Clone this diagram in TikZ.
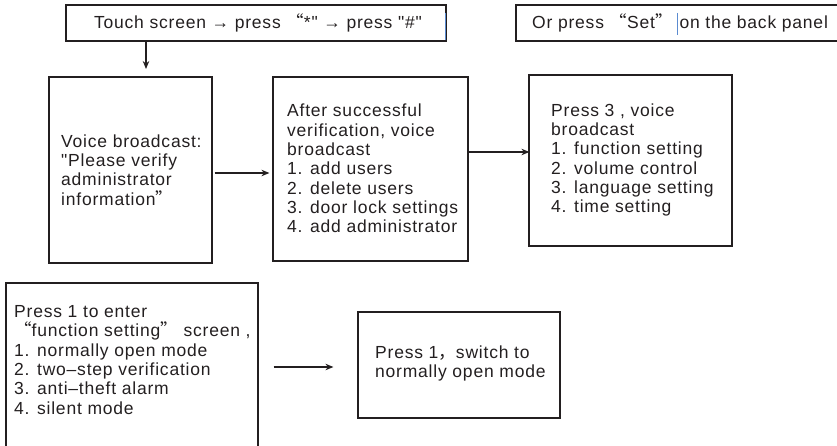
\documentclass[tikz,border=0pt]{standalone}
\usepackage{fontspec}
\setmainfont{Liberation Sans}[LetterSpace=4.5,Ligatures=TeXOff]
\newfontfamily\cjk{Noto Sans CJK SC}
\usetikzlibrary{arrows.meta}
\definecolor{ink}{HTML}{231F20}
\definecolor{cursor}{HTML}{5B8BD0}
\newcommand{\sq}{{\char"0022}}
\begin{document}
\begin{tikzpicture}[x=1pt,y=-1pt,
  box/.style={draw=ink,line width=1.2pt,minimum width=#1,inner sep=0pt},
  txt/.style={anchor=west,align=left,inner sep=0pt,text=ink,font=\fontsize{17.5}{19.3}\selectfont},
  arr/.style={draw=ink,line width=1.2pt,-{Stealth[length=8pt,width=6.5pt]}}]
\useasboundingbox (0,0) rectangle (837,446);
\begin{scope}
\clip (0,0) rectangle (837,446);
% top boxes
\node[box=380pt,minimum height=36pt] (top) at (256,23) {};
\node[txt,anchor=center] (toptxt) at (258,23) {Touch screen → press {\cjk “}*\sq{} → press \sq\#\sq};
\draw[cursor,line width=0.8pt] (445,13) -- (445,40);
\node[box=340pt,minimum height=36pt] (setbox) at (686,23) {};
\node[txt] (settxt) at (532,23) {Or press {\cjk “}Set{\cjk ”}\hspace{7pt}on the back panel};
\draw[cursor,line width=0.8pt] (677,13) -- (677,35);
% row 2
\node[box=163pt,minimum height=186pt] (vb) at (130.5,170) {};
\node[txt] (vbtxt) at (61,170) {Voice broadcast:\\\sq Please verify\\administrator\\information{\cjk ”}};
\node[box=195pt,minimum height=184pt] (ver) at (370.5,169) {};
\node[txt] (vertxt) at (287,168.5) {After successful\\verification, voice\\broadcast\\1. add users\\2. delete users\\3. door lock settings\\4. add administrator};
\node[box=203pt,minimum height=171pt] (p3) at (630.5,160.5) {};
\node[txt] (p3txt) at (551,160) {Press 3 , voice\\broadcast\\1. function setting\\2. volume control\\3. language setting\\4. time setting};
% row 3
\node[box=252pt,minimum height=180pt] (fs) at (132,373) {};
\node[txt] (fstxt) at (14,360) {Press 1 to enter\\ {\cjk “}function setting{\cjk ”} screen ,\\1. normally open mode\\2. two–step verification\\3. anti–theft alarm\\4. silent mode};
\node[box=202pt,minimum height=106pt] (p1) at (459,365) {};
\node[txt] (p1txt) at (375,363.5) {Press 1{\cjk ，}switch to\\normally open mode};
\end{scope}
% connectors
\coordinate (d1) at (146,69);
\coordinate (a1) at (0,173);
\coordinate (a2) at (0,152);
\coordinate (a3) at (0,367);
\draw[arr] (top.south -| d1) -- (d1);
\draw[arr,shorten <=2pt,shorten >=3pt] (vb.east |- a1) -- (ver.west |- a1);
\draw[arr,shorten >=-1pt] (ver.east |- a2) -- (p3.west |- a2);
\draw[arr,shorten <=15pt,shorten >=24pt] (fs.east |- a3) -- (p1.west |- a3);
\end{tikzpicture}
\end{document}
